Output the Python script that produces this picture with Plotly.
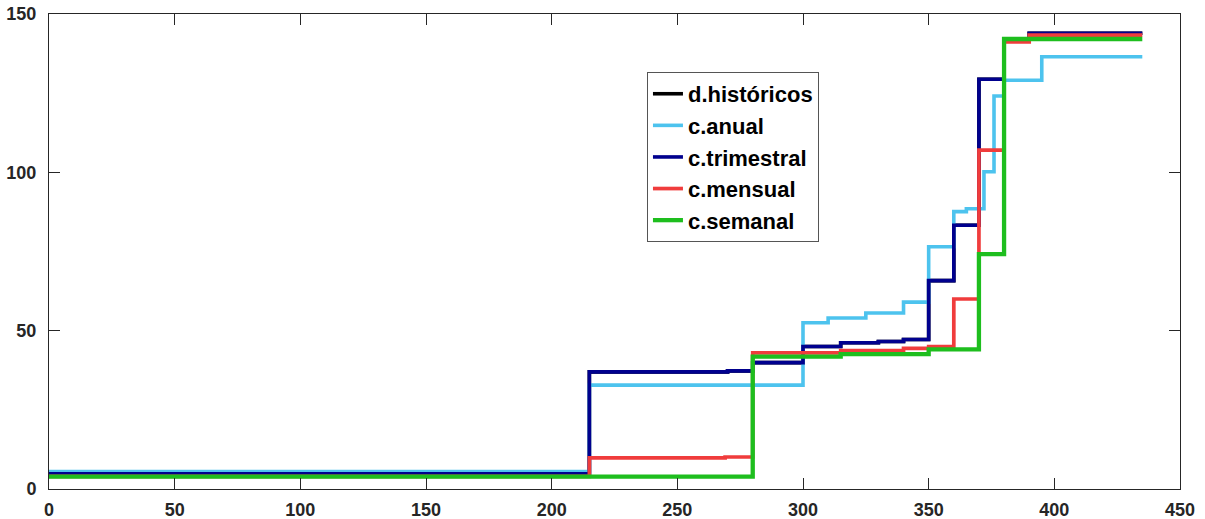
import plotly.graph_objects as go

# ---- data ----
hist_x = [0, 215, 270, 280, 300, 315, 330, 340, 350, 360, 370, 380, 390, 435]
hist_y = [4.8, 37.0, 37.3, 39.9, 45.0, 46.2, 46.6, 47.2, 65.8, 83.3, 129.4, 142.0, 143.9, 143.9]

anual_x = [0, 215, 300, 310, 325, 340, 350, 360, 365, 372, 376, 380, 395, 435]
anual_y = [5.5, 32.8, 52.5, 54.0, 55.6, 59.0, 76.5, 87.6, 88.5, 100.2, 124.1, 129.1, 136.5, 136.5]

trim_x = [0, 215, 270, 280, 300, 315, 330, 340, 350, 360, 370, 380, 390, 435]
trim_y = [4.8, 37.0, 37.3, 39.9, 45.0, 46.2, 46.6, 47.2, 65.8, 83.3, 129.4, 142.0, 143.9, 143.9]

mens_x = [0, 215, 269, 280, 315, 340, 350, 360, 370, 380, 390, 435]
mens_y = [4.0, 9.8, 10.1, 43.0, 43.7, 44.4, 45.0, 60.0, 107.0, 141.2, 143.3, 143.3]

sem_x = [0, 280, 315, 350, 370, 380, 435]
sem_y = [3.9, 41.8, 42.6, 44.1, 74.2, 142.1, 142.1]

x_ticks = [0, 50, 100, 150, 200, 250, 300, 350, 400, 450]
y_ticks = [0, 50, 100, 150]

series = [
    ("d.históricos", hist_x, hist_y, "#000000", 3.6),
    ("c.anual", anual_x, anual_y, "#4DC3EE", 3.6),
    ("c.trimestral", trim_x, trim_y, "#00008E", 3.6),
    ("c.mensual", mens_x, mens_y, "#F03C3C", 3.7),
    ("c.semanal", sem_x, sem_y, "#1EBE1E", 4.3),
]

fig = go.Figure()
for name, xs, ys, col, w in series:
    fig.add_trace(go.Scatter(
        x=xs, y=ys, mode="lines", name=name,
        line=dict(color=col, width=w, shape="hv"),
    ))

axis_font = dict(family="Liberation Sans, Arial, sans-serif", size=18, color="#262626", weight="bold")

fig.update_layout(
    width=1205, height=519,
    margin=dict(l=49, r=25, t=14, b=30, autoexpand=False),
    paper_bgcolor="white", plot_bgcolor="white",
    showlegend=True,
    legend=dict(
        x=0.5287, y=0.878, xanchor="left", yanchor="top",
        bgcolor="white", bordercolor="#555555", borderwidth=1,
        font=dict(family="Liberation Sans, Arial, sans-serif", size=22, color="#000000", weight="bold"),
        tracegroupgap=0, itemwidth=30,
    ),
)
fig.update_xaxes(
    range=[0, 450], tickvals=x_ticks, ticktext=[str(v) for v in x_ticks],
    showgrid=False, zeroline=False, automargin=False,
    showline=True, linecolor="#262626", linewidth=1, mirror="ticks",
    ticks="inside", ticklen=11, tickcolor="#262626", tickwidth=1,
    tickfont=axis_font, ticklabelstandoff=4,
)
fig.update_yaxes(
    range=[0, 150], tickvals=y_ticks, ticktext=[str(v) for v in y_ticks],
    showgrid=False, zeroline=False, automargin=False,
    showline=True, linecolor="#262626", linewidth=1, mirror="ticks",
    ticks="inside", ticklen=11, tickcolor="#262626", tickwidth=1,
    tickfont=axis_font, ticklabelstandoff=8,
)

fig.write_html("out.html")
